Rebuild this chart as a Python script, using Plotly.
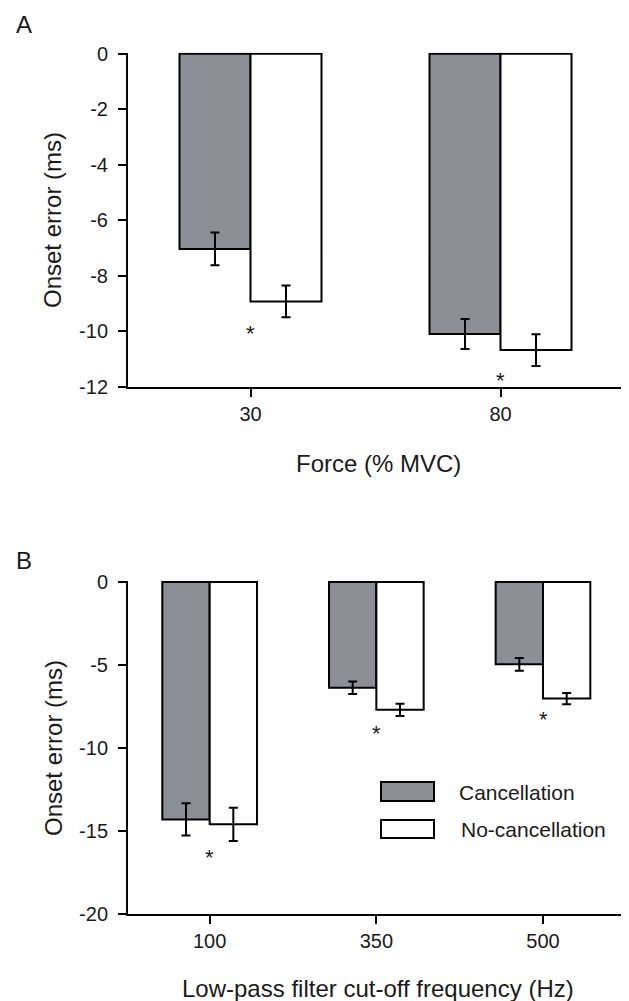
import plotly.graph_objects as go

# ---------------- data ----------------
force_levels = ["30", "80"]
a_cancel = [-7.03, -10.09]
a_cancel_se = [0.59, 0.54]
a_nocancel = [-8.92, -10.67]
a_nocancel_se = [0.57, 0.57]
a_star_y = [-9.9, -11.6]

freq_levels = ["100", "350", "500"]
b_cancel = [-14.3, -6.37, -4.96]
b_cancel_se = [0.97, 0.38, 0.38]
b_nocancel = [-14.6, -7.70, -7.02]
b_nocancel_se = [1.00, 0.37, 0.34]
b_star_y = [-16.3, -8.84, -8.0]

series_names = ["Cancellation", "No-cancellation"]
a_ticks = [0, -2, -4, -6, -8, -10, -12]
b_ticks = [0, -5, -10, -15, -20]

# ---------------- style ----------------
W, H = 629, 1001
GRAY = "#8c8f96"
FONT = "Arial, Liberation Sans, sans-serif"
TXT = "#1a1a1a"
BW = 0.284  # bar width in category units

fig = go.Figure()

def add_bars(xs, cancel, cse, nocancel, nse, xa, ya):
    fig.add_trace(go.Bar(
        x=xs, y=cancel, width=BW, offset=-BW,
        marker=dict(color=GRAY, line=dict(color="black", width=2)),
        error_y=dict(type="data", array=cse, color="black", thickness=2, width=4.5),
        xaxis=xa, yaxis=ya, showlegend=False, name=series_names[0]))
    fig.add_trace(go.Bar(
        x=xs, y=nocancel, width=BW, offset=0,
        marker=dict(color="white", line=dict(color="black", width=2)),
        error_y=dict(type="data", array=nse, color="black", thickness=2, width=4.5),
        xaxis=xa, yaxis=ya, showlegend=False, name=series_names[1]))

add_bars(force_levels, a_cancel, a_cancel_se, a_nocancel, a_nocancel_se, "x", "y")
add_bars(freq_levels, b_cancel, b_cancel_se, b_nocancel, b_nocancel_se, "x2", "y2")

def px_x(p):
    return p / W

def px_y(p):
    return 1 - p / H

axis_common = dict(showline=True, linecolor="black", linewidth=2, ticks="outside",
                   ticklen=8, tickwidth=2, tickcolor="black", showgrid=False,
                   zeroline=False, automargin=False,
                   tickfont=dict(family=FONT, size=20, color=TXT))
yaxis_extra = dict(ticklabelstandoff=6)

fig.update_layout(
    width=W, height=H,
    margin=dict(l=0, r=0, t=0, b=0),
    paper_bgcolor="white", plot_bgcolor="white",
    barmode="overlay",
    showlegend=False,
    xaxis=dict(domain=[px_x(120), px_x(620)], anchor="y", type="category",
               range=[-0.49, 1.51], **axis_common),
    yaxis=dict(domain=[px_y(379), px_y(44.7)], anchor="x",
               range=[-12, 0.036], tickvals=a_ticks,
               ticktext=[str(t) for t in a_ticks], **axis_common, **yaxis_extra),
    xaxis2=dict(domain=[px_x(120), px_x(620)], anchor="y2", type="category",
                range=[-0.49, 2.51], **axis_common),
    yaxis2=dict(domain=[px_y(906), px_y(573)], anchor="x2",
                range=[-20, 0.06], tickvals=b_ticks,
                ticktext=[str(t) for t in b_ticks], **axis_common, **yaxis_extra),
)

ann = []

def add_text(x, y, text, size, xref="paper", yref="paper", xanchor="center",
             yanchor="middle", **kw):
    ann.append(dict(x=x, y=y, xref=xref, yref=yref, text=text, showarrow=False,
                    xanchor=xanchor, yanchor=yanchor,
                    font=dict(family=FONT, size=size, color=TXT), **kw))

# significance asterisks
for i, yv in enumerate(a_star_y):
    add_text(i, yv, "*", 22, xref="x", yref="y", yshift=-5)
for i, yv in enumerate(b_star_y):
    add_text(i, yv, "*", 22, xref="x2", yref="y2", yshift=-5)

# panel labels
add_text(px_x(16), px_y(16), "A", 24)
add_text(px_x(16), px_y(552), "B", 24)

# axis titles
add_text(px_x(45), px_y(212), "Onset error (ms)", 24, textangle=-90)
add_text(px_x(45), px_y(740), "Onset error (ms)", 24, textangle=-90)
add_text(px_x(370), px_y(455), "Force (% MVC)", 24)
add_text(px_x(370), px_y(980), "Low-pass filter cut-off frequency (Hz)", 24)

# legend (drawn manually, panel B)
shapes = [
    dict(type="rect", xref="paper", yref="paper",
         x0=px_x(373), x1=px_x(426), y0=px_y(793), y1=px_y(774),
         fillcolor=GRAY, line=dict(color="black", width=2)),
    dict(type="rect", xref="paper", yref="paper",
         x0=px_x(373), x1=px_x(426), y0=px_y(830), y1=px_y(812),
         fillcolor="white", line=dict(color="black", width=2)),
]
add_text(px_x(449), px_y(784), series_names[0], 21, xanchor="left")
add_text(px_x(451), px_y(821), series_names[1], 21, xanchor="left")

fig.update_layout(annotations=ann, shapes=shapes)
fig.write_html("out.html")
